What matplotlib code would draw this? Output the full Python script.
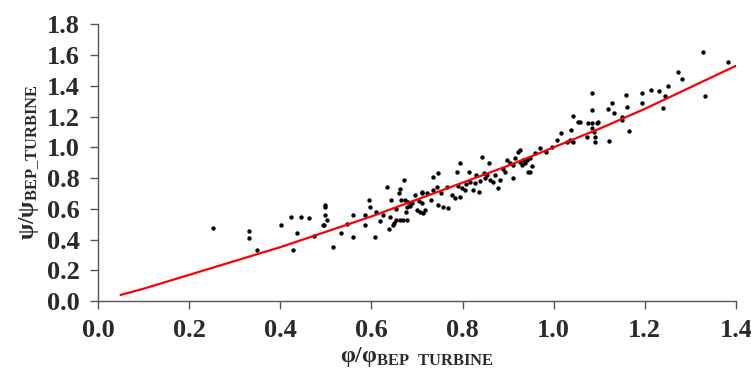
import matplotlib.pyplot as plt

plt.rcParams['font.family'] = ['Liberation Serif', 'DejaVu Serif']
plt.rcParams['font.weight'] = 'bold'
plt.rcParams['mathtext.fontset'] = 'custom'
plt.rcParams['mathtext.rm'] = 'Liberation Serif:bold'
plt.rcParams['mathtext.it'] = 'Liberation Serif:bold'
plt.rcParams['mathtext.bf'] = 'Liberation Serif:bold'

# measured points (phi / phi_BEP, psi / psi_BEP)
phi = [0.252, 0.332, 0.332, 0.350, 0.401, 0.423, 0.445, 0.464, 0.436, 0.429,
       0.474, 0.498, 0.498, 0.498, 0.496, 0.502, 0.493, 0.516, 0.533, 0.546,
       0.559, 0.560, 0.586, 0.595, 0.597, 0.608, 0.619, 0.634, 0.642, 0.641,
       0.639, 0.650, 0.655, 0.662, 0.670, 0.677, 0.663, 0.671, 0.666, 0.674,
       0.681, 0.676, 0.679, 0.648, 0.696, 0.699, 0.707, 0.714, 0.710, 0.723,
       0.712, 0.712, 0.718, 0.736, 0.736, 0.743, 0.747, 0.747, 0.758, 0.769,
       0.776, 0.783, 0.794, 0.787, 0.794, 0.798, 0.805, 0.815, 0.816, 0.827,
       0.824, 0.835, 0.829, 0.842, 0.846, 0.853, 0.857, 0.860, 0.867, 0.882,
       0.878, 0.893, 0.898, 0.904, 0.911, 0.911, 0.922, 0.926, 0.937, 0.944,
       0.926, 0.933, 0.941, 0.948, 0.930, 0.947, 0.970, 0.983, 0.996, 1.007,
       1.015, 1.029, 1.036, 1.043, 1.039, 1.042, 1.054, 1.058, 1.072, 1.076,
       1.085, 1.094, 1.083, 1.083, 1.083, 1.088, 1.091, 1.091, 1.098, 1.120,
       1.122, 1.129, 1.132, 1.159, 1.160, 1.149, 1.166, 1.149, 1.193, 1.193,
       1.214, 1.230, 1.239, 1.244, 1.251, 1.273, 1.281, 1.327, 1.332, 1.383,
       0.625, 0.655, 0.690, 0.705, 0.730, 0.752, 0.765, 0.790, 0.808, 0.838,
       0.850, 0.872, 0.888, 0.915, 0.952, 0.960, 0.684, 0.660, 0.585, 0.610]
psi = [0.473, 0.457, 0.408, 0.332, 0.494, 0.548, 0.548, 0.542, 0.440, 0.332,
       0.423, 0.624, 0.611, 0.559, 0.494, 0.527, 0.494, 0.353, 0.440, 0.500,
       0.418, 0.559, 0.494, 0.657, 0.613, 0.418, 0.520, 0.739, 0.657, 0.548,
       0.466, 0.509, 0.530, 0.530, 0.530, 0.530, 0.726, 0.787, 0.657, 0.657,
       0.645, 0.580, 0.613, 0.494, 0.689, 0.590, 0.580, 0.570, 0.704, 0.700,
       0.711, 0.635, 0.590, 0.808, 0.720, 0.743, 0.830, 0.624, 0.613, 0.602,
       0.689, 0.668, 0.678, 0.841, 0.895, 0.733, 0.722, 0.841, 0.776, 0.765,
       0.722, 0.711, 0.819, 0.938, 0.830, 0.819, 0.895, 0.787, 0.776, 0.787,
       0.733, 0.841, 0.917, 0.895, 0.884, 0.798, 0.971, 0.906, 0.895, 0.841,
       0.982, 0.917, 0.917, 0.928, 0.884, 0.841, 0.993, 0.971, 1.003, 1.047,
       1.090, 1.036, 1.047, 1.036, 1.112, 1.203, 1.166, 1.166, 1.068, 1.155,
       1.155, 1.155, 1.242, 1.350, 1.123, 1.100, 1.068, 1.036, 1.166, 1.246,
       1.042, 1.285, 1.220, 1.339, 1.259, 1.198, 1.107, 1.177, 1.350, 1.285,
       1.372, 1.365, 1.253, 1.333, 1.398, 1.491, 1.441, 1.621, 1.335, 1.556,
       0.560, 0.600, 0.640, 0.650, 0.660, 0.700, 0.740, 0.750, 0.760, 0.780,
       0.800, 0.820, 0.860, 0.930, 0.880, 0.960, 0.620, 0.700, 0.560, 0.580]

# fitted characteristic
curve_x = [0.05, 0.1, 0.2, 0.3, 0.4, 0.5, 0.6, 0.7, 0.8, 0.9, 1.0, 1.1, 1.2, 1.3, 1.4]
curve_y = [0.04, 0.08, 0.17, 0.26, 0.35, 0.45, 0.55, 0.66, 0.77, 0.88, 1.0, 1.12, 1.25, 1.39, 1.53]

fig = plt.figure(figsize=(7.51, 3.78), dpi=100)
ax = fig.add_axes([0.1305, 0.2037, 0.8495, 0.732])

ax.scatter(phi, psi, s=10, color='black', zorder=3, linewidths=0)
ax.plot(curve_x, curve_y, color='#ff0000', lw=1.6, zorder=4)

ax.set_xlim(0, 1.4)
ax.set_ylim(0, 1.8)
ax.set_xticks([0.0, 0.2, 0.4, 0.6, 0.8, 1.0, 1.2, 1.4])
ax.set_yticks([0.0, 0.2, 0.4, 0.6, 0.8, 1.0, 1.2, 1.4, 1.6, 1.8])
ax.xaxis.set_major_formatter(lambda v, p: f'{v:.1f}')
ax.yaxis.set_major_formatter(lambda v, p: f'{v:.1f}')

for side in ['top', 'right']:
    ax.spines[side].set_visible(False)
for side in ['left', 'bottom']:
    ax.spines[side].set_color('#555555')
    ax.spines[side].set_linewidth(1.0)
ax.tick_params(direction='out', length=6, width=1.0, color='#555555',
               labelsize=19, pad=7, labelcolor='#2a2a2a')

ax.set_xlabel(r'$\varphi/\varphi_{\mathrm{BEP\ \ TURBINE}}$', fontsize=17, labelpad=2, color='#2a2a2a')
ax.set_ylabel(r'$\psi/\psi_{\mathrm{BEP\_TURBINE}}$', fontsize=17, labelpad=4, color='#2a2a2a')

fig.savefig('out.png', dpi=100)
